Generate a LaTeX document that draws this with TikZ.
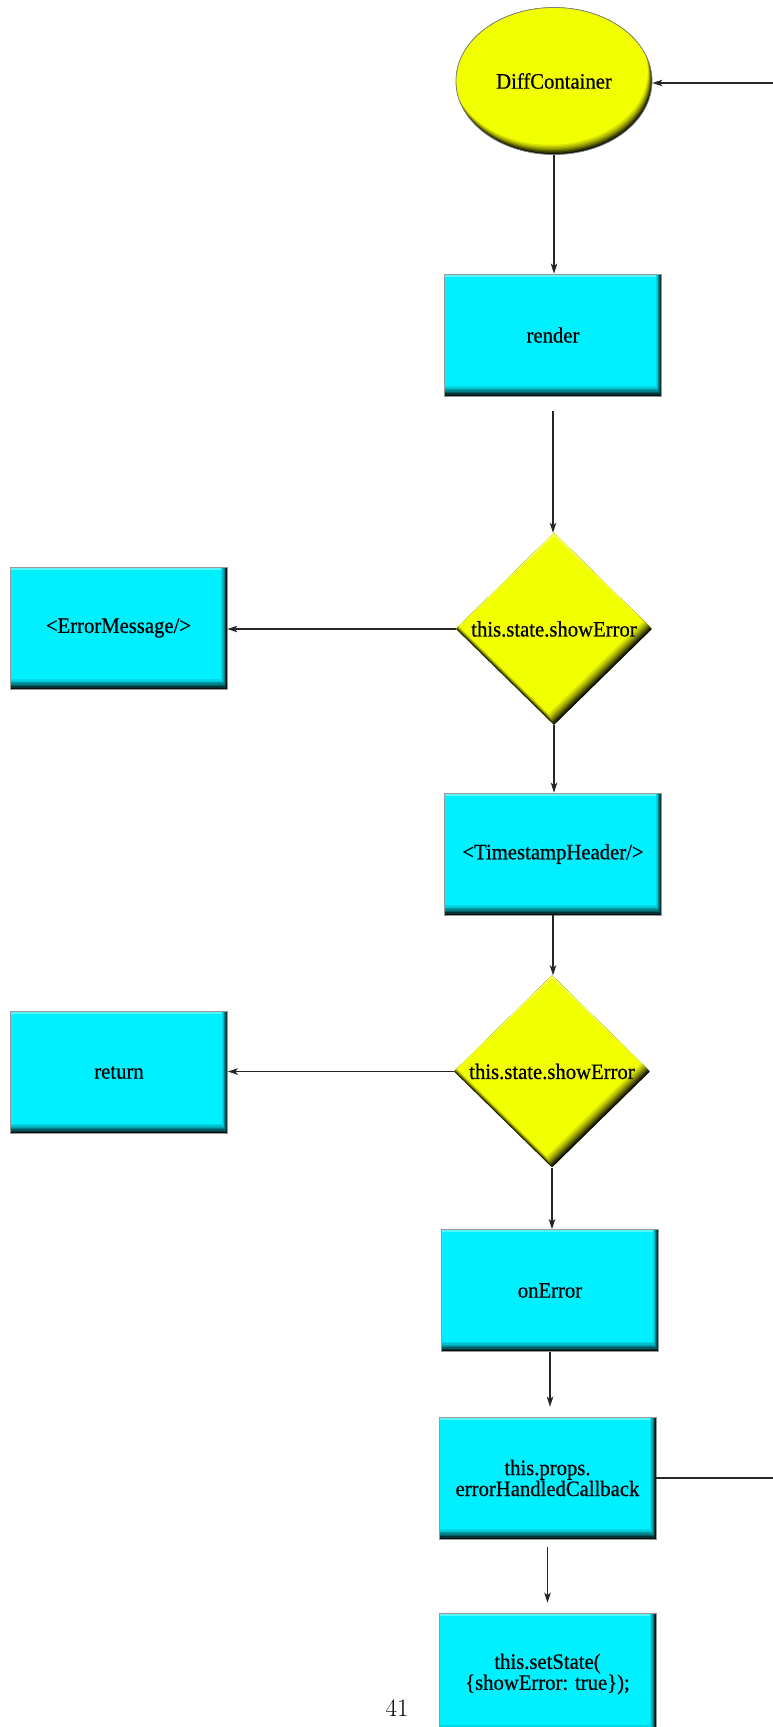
\documentclass[tikz,border=0pt]{standalone}
\usepackage{fontspec}
\newfontfamily\diagfont{Liberation Serif}[FakeStretch=0.94, FakeBold=0.5]
\usetikzlibrary{shapes.geometric,arrows.meta}

\definecolor{boxcyan}{RGB}{0,240,255}
\definecolor{decyellow}{RGB}{242,255,0}

\tikzset{
  flowtext/.style={font=\diagfont\fontsize{22}{18}\selectfont, text=black, align=center},
  % rectangles with a bevelled lower/right edge
  procbox/.style={flowtext, rectangle, minimum width=217pt, minimum height=122pt,
    inner sep=0pt, fill=boxcyan, draw=black!40, line width=0.8pt,
    path picture={
      \fill[black!95] (path picture bounding box.south west) rectangle (path picture bounding box.north east);
      \foreach \dx/\dy/\m in {0.8/1.4/22, 1.6/2.8/38, 2.4/4.2/54, 3.2/5.6/68, 4/7/80, 4.8/8.4/90, 5.6/9.8/100}{
        \fill[boxcyan!\m!black]
          ([xshift=-\dx pt,yshift=\dy pt]path picture bounding box.south west) rectangle
          ([xshift=-\dx pt,yshift=\dy pt]path picture bounding box.north east);
      }
      \fill[white, opacity=0.35] (path picture bounding box.north west) rectangle
        ([xshift=-6pt,yshift=-2.5pt]path picture bounding box.north east);
    }},
  % decision diamonds with the same bevel
  decision/.style={flowtext, diamond, minimum width=196pt, minimum height=192pt,
    inner sep=0pt, fill=decyellow,
    path picture={
      \fill[black!95] (path picture bounding box.south west) rectangle (path picture bounding box.north east);
      \foreach \dx/\dy/\m in {0.8/1.6/22, 1.6/3.2/38, 2.4/4.8/54, 3.2/6.4/68, 4/8/80, 4.8/9.6/90, 5.6/11.2/100}{
        \fill[decyellow!\m!black]
          ([xshift=-\dx pt,yshift=\dy pt]path picture bounding box.north) --
          ([xshift=-\dx pt,yshift=\dy pt]path picture bounding box.east) --
          ([xshift=-\dx pt,yshift=\dy pt]path picture bounding box.south) --
          ([xshift=-\dx pt,yshift=\dy pt]path picture bounding box.west) -- cycle;
      }
      \fill[white, opacity=0.3]
        (path picture bounding box.west) -- (path picture bounding box.north) --
        (path picture bounding box.east) -- ([yshift=-3pt]path picture bounding box.north) -- cycle;
    }},
  % start terminal
  terminal/.style={flowtext, ellipse, minimum width=196pt, minimum height=147pt,
    inner sep=0pt, fill=decyellow, draw=black!50, line width=0.8pt,
    path picture={
      \fill[black!95] (path picture bounding box.south west) rectangle (path picture bounding box.north east);
      \foreach \dx/\dy/\m in {0.6/1.4/22, 1.2/2.8/38, 1.8/4.2/54, 2.4/5.6/68, 3/7/80, 3.6/8.4/90, 4.2/9.8/100}{
        \fill[decyellow!\m!black]
          ([xshift=-\dx pt,yshift=\dy pt]path picture bounding box.center)
          ellipse [x radius=98pt, y radius=73.5pt];
      }
    }},
  flowline/.style={draw=black!85, line width=1.3pt},
  flowarrow/.style={flowline, -{Stealth[length=10pt, width=6.5pt, inset=2.5pt]}},
}

\begin{document}
\begin{tikzpicture}[x=1pt, y=-1pt]
  \useasboundingbox (0,0) rectangle (773,1727);

  % nodes of the flow
  \node[terminal] (ell) at (554,81) {DiffContainer};
  \node[procbox] (render) at (553,335) {render};
  \node[decision] (d1) at (554,629) {\makebox[0pt]{this.state.showError}};
  \node[procbox] (errmsg) at (118.5,628) {<ErrorMessage/>};
  \node[procbox] (ts) at (553,854) {<TimestampHeader/>};
  \node[decision] (d2) at (552,1071.5) {\makebox[0pt]{this.state.showError}};
  \node[procbox] (ret) at (119,1072.5) {return};
  \node[procbox] (onerr) at (550,1290.5) {onError};
  \node[procbox] (cb) at (547.5,1478) {this.props.\\errorHandledCallback};
  \node[procbox] (setst) at (547.5,1674) {this.setState(\\\{showError: true\});};
  \node[font=\fontsize{25}{25}\selectfont] (pagenum) at (397,1708) {41};

  % loose ends at the right margin
  \coordinate (rin) at (773,83);
  \coordinate (rout) at (773,1478);

  % connectors
  \draw[flowarrow] (rin) -- (rin -| ell.east);
  \draw[flowarrow] (ell.south) -- (ell.south |- render.north);
  \draw[flowarrow, shorten <=15pt] (render.south) -- (render.south |- d1.north);
  \draw[flowarrow] (d1.west) -- (d1.west -| errmsg.east);
  \draw[flowarrow] (d1.south) -- (d1.south |- ts.north);
  \draw[flowarrow] (ts.south) -- (ts.south |- d2.north);
  \draw[flowarrow] (d2.west) -- (d2.west -| ret.east);
  \draw[flowarrow] (d2.south) -- (d2.south |- onerr.north);
  \draw[flowarrow, shorten >=10pt] (onerr.south) -- (onerr.south |- cb.north);
  \draw[flowarrow, shorten <=8pt, shorten >=10pt] (cb.south) -- (cb.south |- setst.north);
  \draw[flowline] (cb.east) -- (cb.east -| rout);
\end{tikzpicture}
\end{document}
